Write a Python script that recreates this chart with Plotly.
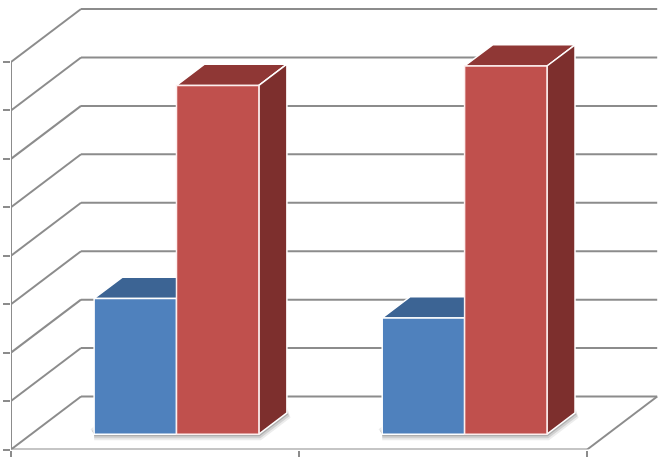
import plotly.graph_objects as go

categories = [0, 1]
series_a = [2.8, 2.4]
series_b = [7.2, 7.6]
levels = [0, 1, 2, 3, 4, 5, 6, 7, 8]
edge_ticks = [-0.5, 0.5, 1.5]

# 3d look: full depth of the floor in axis units, bars sit between FRONT and BACK
DX = 0.243
DY = 1.094
FRONT = 0.29
BACK = 0.69
BAR_W = 0.286
NUDGE = 0.004
GRID = "#8c8c8c"


def proj(x, v, d):
    return x + d * DX, v + d * DY


def face(points, fill, line="white", width=1.5):
    xs, ys = zip(*[proj(*p) for p in points])
    return go.Scatter(x=list(xs) + [xs[0]], y=list(ys) + [ys[0]], mode="lines", fill="toself",
                      fillcolor=fill, line=dict(color=line, width=width),
                      hoverinfo="skip", showlegend=False)


fig = go.Figure()

# soft shadow on the floor, under each pair of bars
for c in categories:
    left = c + NUDGE - BAR_W
    right = c + NUDGE + BAR_W
    foot = [(left, 0, FRONT), (right, 0, FRONT), (right, 0, BACK), (left, 0, BACK)]
    for w, a in [(12, 0.1), (8, 0.16), (4, 0.25)]:
        fig.add_trace(face(foot, "rgba(70,70,70,0.25)", "rgba(70,70,70,%s)" % a, w))

# top and side faces
for c, v in zip(categories, series_a):
    left = c + NUDGE - BAR_W
    right = c + NUDGE
    fig.add_trace(face([(left, v, FRONT), (right, v, FRONT), (right, v, BACK), (left, v, BACK)], "#3c6494"))
for c, v in zip(categories, series_b):
    left = c + NUDGE
    right = c + NUDGE + BAR_W
    fig.add_trace(face([(left, v, FRONT), (right, v, FRONT), (right, v, BACK), (left, v, BACK)], "#8f3735"))
    fig.add_trace(face([(right, 0, FRONT), (right, v, FRONT), (right, v, BACK), (right, 0, BACK)], "#7d2f2d"))

# front faces go on an overlaid axis pair so they cover the faces above
fig.add_trace(go.Bar(x=[proj(c + NUDGE - BAR_W / 2, 0, FRONT)[0] for c in categories], y=series_a,
                     base=FRONT * DY, width=BAR_W, marker=dict(color="#4f81bd", line=dict(color="white", width=1.5)),
                     xaxis="x2", yaxis="y2", showlegend=False))
fig.add_trace(go.Bar(x=[proj(c + NUDGE + BAR_W / 2, 0, FRONT)[0] for c in categories], y=series_b,
                     base=FRONT * DY, width=BAR_W, marker=dict(color="#c0504d", line=dict(color="#fdeeee", width=1.5)),
                     xaxis="x2", yaxis="y2", showlegend=False))

# walls and floor
shapes = []


def wall_line(a, b):
    shapes.append(dict(type="line", layer="below", xref="x", yref="y", x0=a[0], y0=a[1], x1=b[0], y1=b[1],
                       line=dict(color=GRID, width=2)))


for v in levels:
    wall_line(proj(-0.5, v, 0), proj(-0.5, v, 1))
    wall_line(proj(-0.5, v, 1), proj(1.5, v, 1))
wall_line(proj(-0.5, 0, 0), proj(-0.5, 8, 0))
wall_line(proj(-0.5, 0, 0), proj(1.5, 0, 0))
wall_line(proj(1.5, 0, 0), proj(1.5, 0, 1))

xrange = [-0.5, 1.777]
yrange = [0, 9.28]
xdomain = [11 / 667, 1]
ydomain = [10.5 / 460, 1]

fig.update_layout(
    width=667, height=460,
    margin=dict(l=0, r=0, t=0, b=0),
    paper_bgcolor="white", plot_bgcolor="white",
    barmode="overlay",
    showlegend=False,
    shapes=shapes,
    xaxis=dict(domain=xdomain, range=xrange, showgrid=False, zeroline=False, showline=False,
               tickmode="array", tickvals=edge_ticks, ticks="outside", ticklen=6, tickwidth=1.5,
               tickcolor=GRID, showticklabels=False),
    yaxis=dict(domain=ydomain, range=yrange, showgrid=False, zeroline=False, showline=False,
               tickmode="array", tickvals=levels, ticks="outside", ticklen=7, tickwidth=1.5,
               tickcolor=GRID, showticklabels=False),
    xaxis2=dict(domain=xdomain, range=xrange, overlaying="x", visible=False),
    yaxis2=dict(domain=ydomain, range=yrange, overlaying="y", visible=False),
)

# page margin would push the figure off by 8px
fig.write_html("out.html", config=dict(displayModeBar=False),
               post_script="document.body.style.margin='0';document.body.style.overflow='hidden';")
